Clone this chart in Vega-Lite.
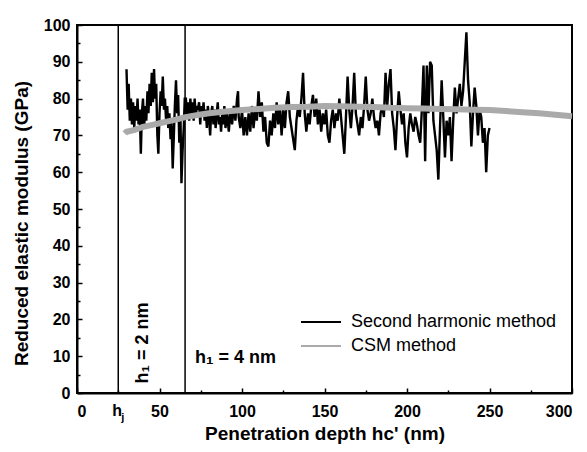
{
  "$schema": "https://vega.github.io/schema/vega-lite/v6.json",
  "width": 495,
  "height": 368,
  "autosize": {"type": "none"},
  "padding": {"left": 77, "top": 25, "right": 15, "bottom": 59},
  "background": "white",
  "config": {
    "font": "Liberation Sans",
    "view": {"stroke": "black", "strokeWidth": 2},
    "axis": {"domainColor": "black", "domainWidth": 2, "tickColor": "black", "tickWidth": 1.5, "grid": false, "labelFont": "Liberation Sans", "labelFontWeight": "bold", "labelFontSize": 16, "labelColor": "black", "titleFont": "Liberation Sans", "titleFontWeight": "bold", "titleFontSize": 19, "titleColor": "black", "labelOverlap": false}
  },
  "datasets": {
    "sh": [
      {"x":30,"y":88},{"x":30.7,"y":77},{"x":31.3,"y":84},{"x":32,"y":74},{"x":32.7,"y":80},{"x":33.3,"y":73},{"x":34,"y":79},{"x":34.7,"y":72},{"x":35.3,"y":78},{"x":36,"y":74},{"x":36.7,"y":80},{"x":37.3,"y":73},{"x":38,"y":77},{"x":38.7,"y":65},{"x":39.3,"y":76},{"x":40,"y":80},{"x":40.7,"y":72},{"x":41.3,"y":78},{"x":42,"y":74},{"x":42.7,"y":82},{"x":43.3,"y":76},{"x":44,"y":84},{"x":44.7,"y":78},{"x":45.3,"y":87},{"x":46,"y":79},{"x":46.7,"y":88},{"x":47.3,"y":80},{"x":48,"y":84},{"x":48.7,"y":70},{"x":49.3,"y":65},{"x":50,"y":76},{"x":50.7,"y":82},{"x":51.3,"y":78},{"x":52,"y":86},{"x":52.7,"y":77},{"x":53.3,"y":80},{"x":54,"y":74},{"x":54.7,"y":78},{"x":55.3,"y":72},{"x":56,"y":76},{"x":56.7,"y":69},{"x":57.3,"y":74},{"x":58,"y":61},{"x":58.7,"y":70},{"x":59.3,"y":78},{"x":60,"y":85},{"x":60.7,"y":76},{"x":61.3,"y":81},{"x":62,"y":68},{"x":62.7,"y":75},{"x":63.3,"y":57},{"x":64,"y":66},{"x":64.7,"y":72},{"x":65.3,"y":80},
      {"x":66,"y":80},{"x":66.7,"y":75},{"x":67.3,"y":79},{"x":68,"y":74},{"x":68.7,"y":80},{"x":69.3,"y":76},{"x":70,"y":79},{"x":70.7,"y":74},{"x":71.3,"y":80},{"x":72,"y":75},{"x":72.7,"y":78},{"x":73.3,"y":77},{"x":74,"y":79},{"x":74.7,"y":73},{"x":75.3,"y":78},{"x":76,"y":75},{"x":76.7,"y":79},{"x":77.3,"y":74},{"x":78,"y":77},{"x":78.7,"y":72},{"x":79.3,"y":78},{"x":80,"y":75},{"x":80.7,"y":70},{"x":81.3,"y":76},{"x":82,"y":78},{"x":82.7,"y":73},{"x":83.3,"y":77},{"x":84,"y":72},{"x":84.7,"y":76},{"x":85.3,"y":79},{"x":86,"y":73},{"x":86.7,"y":75},{"x":87.3,"y":71},{"x":88,"y":76},{"x":88.7,"y":73},{"x":89.3,"y":78},{"x":90,"y":72},{"x":91,"y":76},{"x":92,"y":71},{"x":93,"y":77},{"x":94,"y":73},{"x":95,"y":78},{"x":96,"y":74},{"x":97,"y":80},{"x":97.6,"y":82},{"x":98,"y":75},{"x":99,"y":72},{"x":100,"y":77},{"x":101,"y":70},{"x":102,"y":75},{"x":103,"y":70},{"x":104,"y":76},{"x":105,"y":71},{"x":106,"y":78},{"x":107,"y":72},{"x":108,"y":77},{"x":109,"y":74},{"x":110,"y":82},{"x":111,"y":75},{"x":112,"y":79},{"x":113,"y":71},{"x":114,"y":75},{"x":115,"y":68},{"x":116,"y":67},{"x":117,"y":74},{"x":118,"y":70},{"x":119,"y":76},{"x":120,"y":72},{"x":121,"y":79},{"x":122,"y":73},{"x":123,"y":78},{"x":124,"y":70},{"x":125,"y":77},{"x":126,"y":72},{"x":127,"y":79},{"x":128,"y":82},{"x":129,"y":75},{"x":130,"y":72},{"x":131,"y":69},{"x":132,"y":66},{"x":133,"y":74},{"x":134,"y":78},{"x":135,"y":75},{"x":136,"y":80},{"x":137,"y":87},{"x":138,"y":76},{"x":139,"y":71},{"x":140,"y":76},{"x":141,"y":73},{"x":142,"y":78},{"x":143,"y":81},{"x":144,"y":75},{"x":145,"y":80},{"x":146,"y":73},{"x":147,"y":77},{"x":148,"y":71},{"x":149,"y":76},{"x":150,"y":73},{"x":151,"y":77},{"x":152,"y":70},{"x":153,"y":68},{"x":154,"y":74},{"x":155,"y":77},{"x":156,"y":72},{"x":157,"y":76},{"x":158,"y":74},{"x":159,"y":80},{"x":160,"y":75},{"x":161,"y":70},{"x":162,"y":65},{"x":163,"y":75},{"x":164,"y":86},{"x":165,"y":77},{"x":166,"y":72},{"x":167,"y":78},{"x":168,"y":87},{"x":169,"y":76},{"x":170,"y":73},{"x":171,"y":70},{"x":172,"y":75},{"x":173,"y":72},{"x":174,"y":78},{"x":175,"y":86},{"x":176,"y":77},{"x":177,"y":74},{"x":178,"y":76},{"x":179,"y":80},{"x":180,"y":75},{"x":181,"y":72},{"x":182,"y":74},{"x":183,"y":70},{"x":184,"y":76},{"x":185,"y":78},{"x":186,"y":75},{"x":187,"y":87},{"x":188,"y":78},{"x":189,"y":84},{"x":190,"y":88},{"x":191,"y":76},{"x":192,"y":72},{"x":193,"y":66},{"x":194,"y":75},{"x":195,"y":82},{"x":196,"y":77},{"x":197,"y":73},{"x":198,"y":76},{"x":199,"y":68},{"x":200,"y":64},{"x":201,"y":72},{"x":202,"y":76},{"x":203,"y":73},{"x":204,"y":71},{"x":205,"y":75},{"x":206,"y":73},{"x":207,"y":70},{"x":208,"y":68},{"x":209,"y":77},{"x":210,"y":89},{"x":211,"y":63},{"x":212,"y":89},{"x":213,"y":76},{"x":214,"y":90},{"x":215,"y":89},{"x":216,"y":74},{"x":217,"y":70},{"x":218,"y":66},{"x":219,"y":58},{"x":220,"y":72},{"x":221,"y":85},{"x":222,"y":75},{"x":223,"y":64},{"x":224,"y":74},{"x":225,"y":70},{"x":226,"y":75},{"x":227,"y":63},{"x":228,"y":74},{"x":229,"y":83},{"x":230,"y":76},{"x":231,"y":80},{"x":232,"y":84},{"x":233,"y":78},{"x":234,"y":82},{"x":235,"y":90},{"x":236,"y":98},{"x":237,"y":85},{"x":238,"y":79},{"x":239,"y":67},{"x":240,"y":76},{"x":241,"y":83},{"x":242,"y":78},{"x":243,"y":70},{"x":244,"y":77},{"x":245,"y":75},{"x":246,"y":68},{"x":247,"y":72},{"x":248,"y":60},{"x":249,"y":70},{"x":250,"y":72}
    ],
    "csm": [
      {"x":29,"y":70.5},{"x":30,"y":71},{"x":35,"y":71.5},{"x":40,"y":72.3},{"x":45,"y":72.8},{"x":50,"y":73.3},{"x":55,"y":73.8},{"x":60,"y":74.3},{"x":65,"y":74.9},{"x":70,"y":75.3},{"x":75,"y":75.7},{"x":80,"y":76},{"x":90,"y":76.5},{"x":100,"y":76.9},{"x":110,"y":77.2},{"x":120,"y":77.5},{"x":130,"y":77.7},{"x":140,"y":77.8},{"x":150,"y":78},{"x":160,"y":77.9},{"x":170,"y":77.8},{"x":180,"y":77.7},{"x":190,"y":77.5},{"x":200,"y":77.4},{"x":210,"y":77.3},{"x":220,"y":77.2},{"x":230,"y":77.1},{"x":240,"y":77},{"x":250,"y":76.9},{"x":260,"y":76.6},{"x":270,"y":76.3},{"x":280,"y":76},{"x":290,"y":75.6},{"x":300,"y":75.2}
    ],
    "vlines": [{"x":25},{"x":65.5}]
  },
  "resolve": {"axis": {"x": "independent", "y": "independent"}},
  "layer": [
    {
      "data": {"name": "sh"},
      "mark": {"type": "line", "strokeWidth": 2.4},
      "encoding": {
        "x": {"field": "x", "type": "quantitative", "scale": {"domain": [0, 300]},
          "axis": {"values": [0,50,100,150,200,250,300], "tickSize": -5, "labelPadding": 15, "title": "Penetration depth hc' (nm)", "titlePadding": 5}},
        "y": {"field": "y", "type": "quantitative", "scale": {"domain": [0, 100]},
          "axis": {"values": [0,10,20,30,40,50,60,70,80,90,100], "tickSize": -5, "labelPadding": 12, "title": "Reduced elastic modulus (GPa)", "titlePadding": 12, "titleY": 198}},
        "color": {"datum": "Second harmonic method", "type": "nominal",
          "scale": {"domain": ["Second harmonic method", "CSM method"], "range": ["black", "#aaaaaa"]},
          "legend": {"orient": "none", "legendX": 235, "legendY": 288, "title": null, "symbolType": "M-4,0H4", "symbolSize": 100, "symbolStrokeWidth": 2.2, "symbolFillColor": "transparent", "labelFont": "Liberation Sans", "labelFontSize": 18, "labelColor": "black", "labelOffset": 21, "labelLimit": 400, "rowPadding": 6, "padding": 0}}
      }
    },
    {
      "data": {"name": "csm"},
      "mark": {"type": "line", "strokeWidth": 2.2},
      "encoding": {
        "x": {"field": "x", "type": "quantitative", "axis": null},
        "y": {"field": "y", "type": "quantitative", "axis": null},
        "color": {"datum": "CSM method", "type": "nominal"}
      }
    },
    {
      "data": {"name": "vlines"},
      "mark": {"type": "rule", "color": "black", "strokeWidth": 1.5},
      "encoding": {
        "x": {"field": "x", "type": "quantitative", "axis": null},
        "y": {"datum": 0, "type": "quantitative", "axis": null},
        "y2": {"datum": 100}
      }
    },
    {
      "data": {"name": "csm"},
      "mark": {"type": "line", "strokeWidth": 6, "color": "#aaaaaa"},
      "encoding": {
        "x": {"field": "x", "type": "quantitative", "axis": null},
        "y": {"field": "y", "type": "quantitative", "axis": null}
      }
    },
    {
      "data": {"values": [{"x": 40, "y": 13.6, "t": "h\u2081 = 2 nm"}]},
      "mark": {"type": "text", "angle": 270, "font": "Liberation Sans", "fontWeight": "bold", "fontSize": 18, "color": "black", "align": "center", "baseline": "middle"},
      "encoding": {"x": {"field": "x", "type": "quantitative", "axis": null}, "y": {"field": "y", "type": "quantitative", "axis": null}, "text": {"field": "t"}}
    },
    {
      "data": {"values": [{"x": 71.5, "y": 9.5, "t": "h\u2081 = 4 nm"}]},
      "mark": {"type": "text", "font": "Liberation Sans", "fontWeight": "bold", "fontSize": 18, "color": "black", "align": "left", "baseline": "middle"},
      "encoding": {"x": {"field": "x", "type": "quantitative", "axis": null}, "y": {"field": "y", "type": "quantitative", "axis": null}, "text": {"field": "t"}}
    },
    {
      "data": {"values": [{"x": 25, "y": 0, "t": "h"}]},
      "mark": {"type": "text", "font": "Liberation Sans", "fontWeight": "bold", "fontSize": 16, "color": "black", "align": "center", "baseline": "middle", "dy": 18, "dx": -1},
      "encoding": {"x": {"field": "x", "type": "quantitative", "axis": null}, "y": {"field": "y", "type": "quantitative", "axis": null}, "text": {"field": "t"}}
    },
    {
      "data": {"values": [{"x": 25, "y": 0, "t": "j"}]},
      "mark": {"type": "text", "font": "Liberation Sans", "fontWeight": "bold", "fontSize": 11, "color": "black", "align": "left", "baseline": "middle", "dy": 25, "dx": 3},
      "encoding": {"x": {"field": "x", "type": "quantitative", "axis": null}, "y": {"field": "y", "type": "quantitative", "axis": null}, "text": {"field": "t"}}
    },
    {
      "data": {"name": "vlines"},
      "mark": {"type": "rule", "opacity": 0},
      "encoding": {
        "x": {"field": "x", "type": "quantitative", "axis": {"orient": "bottom", "values": [25,75,125,175,225,275], "tickSize": -3, "labels": false, "domain": false, "title": null}},
        "y": {"datum": 5, "type": "quantitative", "axis": {"orient": "left", "values": [5,15,25,35,45,55,65,75,85,95], "tickSize": -3, "labels": false, "domain": false, "title": null}}
      }
    }
  ]
}
